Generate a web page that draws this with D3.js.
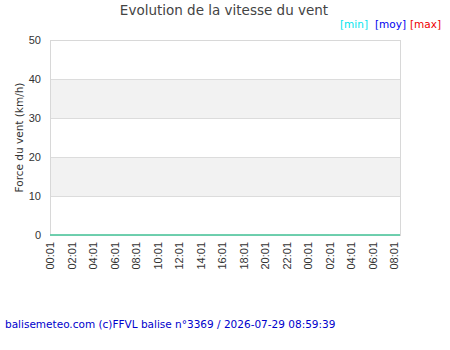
<!DOCTYPE html>
<html>
<head>
<meta charset="utf-8">
<script src="https://cdn.jsdelivr.net/npm/d3@7"></script>
<style>
  body { margin: 0; background: #fff; }
  svg { display: block; font-family: "DejaVu Sans", sans-serif; }
</style>
</head>
<body>
<svg id="chart" width="450" height="350"></svg>
<script>
  // releves de la balise (km/h), heure locale
  var windTimes = ["2026-07-28 00:01", "2026-07-28 02:01", "2026-07-28 04:01", "2026-07-28 06:01",
    "2026-07-28 08:01", "2026-07-28 10:01", "2026-07-28 12:01", "2026-07-28 14:01",
    "2026-07-28 16:01", "2026-07-28 18:01", "2026-07-28 20:01", "2026-07-28 22:01",
    "2026-07-29 00:01", "2026-07-29 02:01", "2026-07-29 04:01", "2026-07-29 06:01",
    "2026-07-29 08:01", "2026-07-29 08:35"];
  var windMin = [0, 0, 0, 0, 0, 0, 0, 0, 0, 0, 0, 0, 0, 0, 0, 0, 0, 0];
  var windMoy = [0, 0, 0, 0, 0, 0, 0, 0, 0, 0, 0, 0, 0, 0, 0, 0, 0, 0];
  var windMax = [0, 0, 0, 0, 0, 0, 0, 0, 0, 0, 0, 0, 0, 0, 0, 0, 0, 0];
  var yTicks = [0, 10, 20, 30, 40, 50];
  var tickTimes = windTimes.slice(0, 17);

(function () {
  'use strict';

  var parse = d3.timeParse("%Y-%m-%d %H:%M");
  var fmt = d3.timeFormat("%H:%M");

  var plotLeft = 50, plotRight = 400, plotTop = 40, plotBottom = 235;

  var svg = d3.select("#chart");

  var x = d3.scaleTime()
    .domain([parse(windTimes[0]), parse(windTimes[windTimes.length - 1])])
    .range([plotLeft, plotRight]);

  var y = d3.scaleLinear().domain([0, 50]).range([plotBottom, plotTop]);

  // bandes grises
  svg.append("g").selectAll("rect")
    .data([[10, 20], [30, 40]])
    .enter().append("rect")
    .attr("x", plotLeft)
    .attr("width", plotRight - plotLeft)
    .attr("y", function (d) { return y(d[1]); })
    .attr("height", function (d) { return y(d[0]) - y(d[1]); })
    .attr("fill", "#f2f2f2");

  // grille
  svg.append("g").selectAll("line")
    .data(yTicks)
    .enter().append("line")
    .attr("x1", plotLeft).attr("x2", plotRight)
    .attr("y1", function (d) { return y(d) + 0.5; })
    .attr("y2", function (d) { return y(d) + 0.5; })
    .attr("stroke", "#dcdcdc");

  svg.append("rect")
    .attr("x", plotLeft + 0.5).attr("y", plotTop + 0.5)
    .attr("width", plotRight - plotLeft).attr("height", plotBottom - plotTop)
    .attr("fill", "none").attr("stroke", "#d8d8d8");

  // axe y
  var yAxis = svg.append("g")
    .attr("transform", "translate(" + (plotLeft - 9) + ",0)")
    .call(d3.axisLeft(y).tickValues(yTicks).tickSize(0).tickPadding(0));
  yAxis.select(".domain").remove();
  yAxis.selectAll("text").attr("fill", "#333").style("font-size", "11px");

  // axe x
  var xAxis = svg.append("g")
    .attr("transform", "translate(0," + (plotBottom + 7) + ")")
    .call(d3.axisBottom(x).tickValues(tickTimes.map(parse)).tickFormat(fmt).tickSize(0));
  xAxis.select(".domain").remove();
  xAxis.selectAll("text")
    .attr("fill", "#333")
    .style("font-size", "11px")
    .attr("text-anchor", "end")
    .attr("transform", "rotate(-90)")
    .attr("x", 0).attr("y", 0).attr("dy", "0.35em");

  // courbes
  var area = d3.area()
    .x(function (d, i) { return x(parse(windTimes[i])); })
    .y0(function (d, i) { return y(windMin[i]); })
    .y1(function (d, i) { return y(windMax[i]); });

  var line = d3.line()
    .x(function (d, i) { return x(parse(windTimes[i])); })
    .y(function (d) { return y(d); });

  svg.append("path").datum(windMax).attr("d", area)
    .attr("fill", "#66ccaa").attr("stroke", "#66ccaa").attr("stroke-width", 1);
  svg.append("path").datum(windMoy).attr("d", line)
    .attr("fill", "none").attr("stroke", "#66ccaa").attr("stroke-width", 1.5);

  // titre et legende
  svg.append("text").attr("x", 224).attr("y", 15)
    .attr("text-anchor", "middle").attr("fill", "#444")
    .style("font-size", "13.5px").text("Evolution de la vitesse du vent");

  var legend = [["[min]", "#00e5ee", 340], ["[moy]", "#0000ee", 375], ["[max]", "#ee0000", 410]];
  svg.append("g").selectAll("text")
    .data(legend)
    .enter().append("text")
    .attr("x", function (d) { return d[2]; })
    .attr("y", 28)
    .attr("fill", function (d) { return d[1]; })
    .style("font-size", "10.5px")
    .text(function (d) { return d[0]; });

  svg.append("text")
    .attr("transform", "translate(23," + ((plotTop + plotBottom) / 2) + ") rotate(-90)")
    .attr("text-anchor", "middle").attr("fill", "#333")
    .style("font-size", "10.5px").text("Force du vent (km/h)");

  svg.append("text").attr("x", 5).attr("y", 328)
    .attr("fill", "#0000cc").style("font-size", "10.5px")
    .text("balisemeteo.com (c)FFVL balise n°3369 / 2026-07-29 08:59:39");
})();
</script>
</body>
</html>
